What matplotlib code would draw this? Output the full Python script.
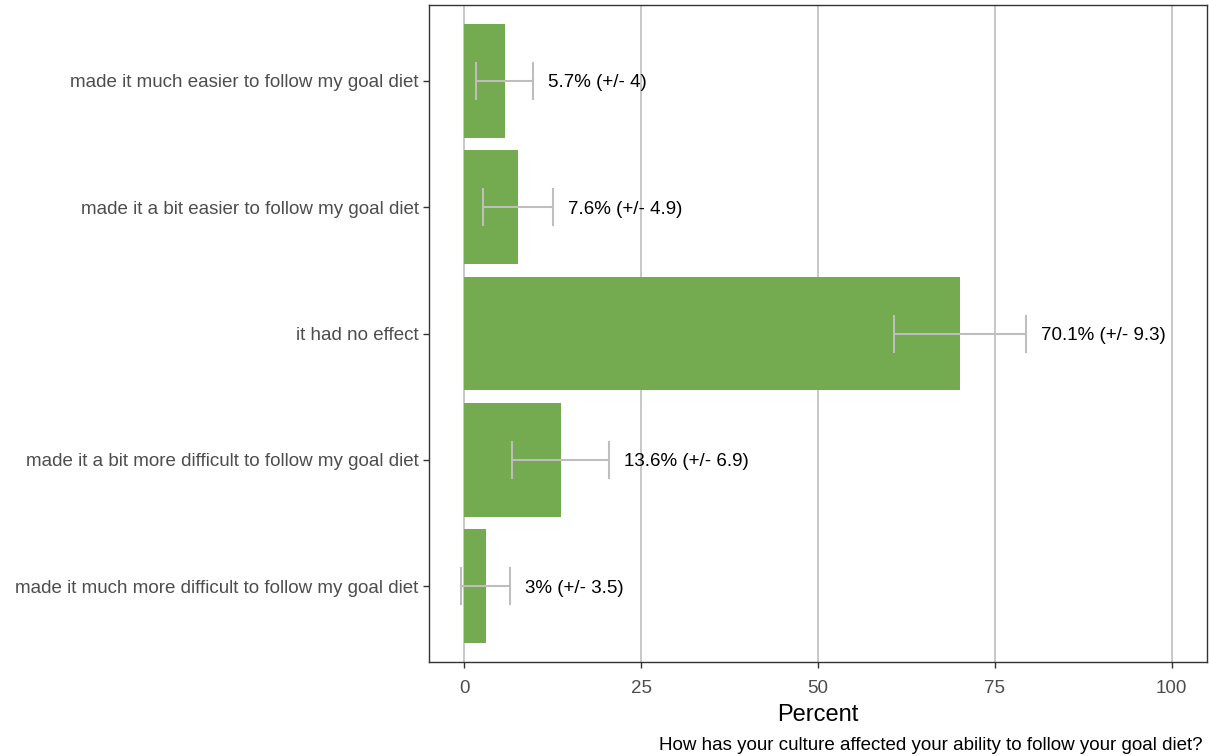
import numpy as np
import matplotlib
matplotlib.use('Agg')
from matplotlib import pyplot as plt

plt.rcParams['font.family'] = ['Liberation Sans', 'DejaVu Sans']

# Data (top to bottom as shown)
categories = ['made it much easier to follow my goal diet',
              'made it a bit easier to follow my goal diet',
              'it had no effect',
              'made it a bit more difficult to follow my goal diet',
              'made it much more difficult to follow my goal diet']
percent = [5.7, 7.6, 70.1, 13.6, 3.0]
moe = [4, 4.9, 9.3, 6.9, 3.5]
labels = ['5.7% (+/- 4)', '7.6% (+/- 4.9)', '70.1% (+/- 9.3)',
          '13.6% (+/- 6.9)', '3% (+/- 3.5)']
question = 'How has your culture affected your ability to follow your goal diet?'

fig = plt.figure(figsize=(12.09, 7.56), dpi=100)
ax = fig.add_axes([429 / 1209, 1 - 662 / 756, (1207 - 429) / 1209, (662 - 5) / 756])

ypos = np.arange(len(categories))[::-1]
ax.barh(ypos, percent, height=0.9, color='#74aa50', zorder=2)
ax.errorbar(percent, ypos, xerr=moe, fmt='none', ecolor='#bebebe',
            elinewidth=1.5, capsize=13.5, capthick=1.5, zorder=3)
for y, p, m, lab in zip(ypos, percent, moe, labels):
    ax.text(p + m + 2.1, y, lab, va='center_baseline', ha='left', fontsize=13.5,
            color='black', zorder=4)

ax.set_xlim(-5, 105)
ax.set_ylim(-0.6, 4.6)
ax.set_xticks([0, 25, 50, 75, 100])
ax.set_yticks(ypos)
ax.set_yticklabels(categories)
ax.tick_params(axis='both', labelsize=13.5, labelcolor='#4d4d4d', color='#333333',
               length=4, width=1)
ax.tick_params(axis='x', pad=9)
ax.grid(axis='x', color='#bebebe', linewidth=1.2, zorder=0)
ax.set_axisbelow(True)
for s in ax.spines.values():
    s.set_color('#333333')
    s.set_linewidth(1)

ax.set_xlabel('Percent', fontsize=17, color='black', labelpad=5)
fig.text(1203 / 1209, 1 - 746 / 756, question, ha='right', va='center', fontsize=13.5, color='black')

fig.savefig('out.png', dpi=100)
